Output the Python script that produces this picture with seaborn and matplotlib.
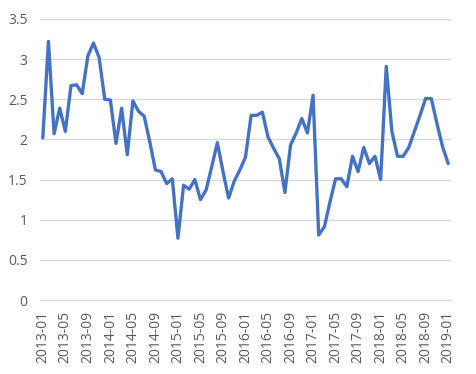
import seaborn as sns
import matplotlib.pyplot as plt
import pandas as pd
import numpy as np
from matplotlib.ticker import FixedLocator, FuncFormatter

# monthly values, 2013-01 .. 2019-01
months = pd.date_range('2013-01-01', '2019-01-01', freq='MS').strftime('%Y-%m').tolist()
values = [
    2.02, 3.22, 2.07, 2.39, 2.10, 2.67, 2.68, 2.57, 3.04, 3.20, 3.02, 2.50,
    2.49, 1.95, 2.39, 1.81, 2.48, 2.35, 2.29, 1.97, 1.62, 1.60, 1.45, 1.51,
    0.77, 1.43, 1.38, 1.50, 1.25, 1.37, 1.66, 1.96, 1.60, 1.27, 1.48, 1.62,
    1.78, 2.30, 2.30, 2.34, 2.03, 1.89, 1.76, 1.34, 1.93, 2.08, 2.26, 2.08,
    2.55, 0.81, 0.91, 1.22, 1.51, 1.51, 1.41, 1.79, 1.60, 1.90, 1.70, 1.79,
    1.50, 2.91, 2.10, 1.79, 1.79, 1.90, 2.10, 2.30, 2.51, 2.51, 2.20, 1.91,
    1.70,
]
y_ticks = [0, 0.5, 1, 1.5, 2, 2.5, 3, 3.5]

df = pd.DataFrame({'month': months, 'value': values})
df['pos'] = range(len(df))

sns.set_style('white')
plt.rcParams['font.family'] = ['Open Sans', 'DejaVu Sans']

fig = plt.figure(figsize=(4.77, 3.74), dpi=100)
ax = fig.add_axes([40 / 477, 1 - 300 / 374, 411 / 477, 281 / 374])

sns.lineplot(data=df, x='pos', y='value', ax=ax, color='#4472C4', linewidth=2.4)

grey = '#D9D9D9'
txt = '#595959'

ax.set_xlim(-0.5, len(df) - 0.5)
ax.set_ylim(0, 3.5)
ax.set_yticks(y_ticks)
ax.yaxis.set_major_formatter(FuncFormatter(lambda v, p: f'{v:g}'))
ax.grid(axis='y', color=grey, linewidth=1.0)
ax.set_axisbelow(True)

label_pos = list(range(0, len(df), 4))
ax.set_xticks(label_pos)
ax.set_xticklabels([months[i] for i in label_pos], rotation=90)
ax.xaxis.set_minor_locator(FixedLocator([p - 0.5 for p in label_pos]))
ax.tick_params(axis='x', which='major', length=0, pad=8, labelsize=10, labelcolor=txt)
ax.tick_params(axis='x', which='minor', length=4, width=0.8, color=grey, direction='out')
ax.tick_params(axis='y', length=0, pad=9, labelcolor=txt)
for lab in ax.get_yticklabels():
    lab.set_family(['Liberation Sans Narrow', 'Open Sans'])
    lab.set_fontsize(10)

for s in ['top', 'right', 'left']:
    ax.spines[s].set_visible(False)
ax.spines['bottom'].set_color(grey)
ax.spines['bottom'].set_linewidth(1.0)

ax.set_xlabel('')
ax.set_ylabel('')

fig.savefig('out.png', dpi=100)
